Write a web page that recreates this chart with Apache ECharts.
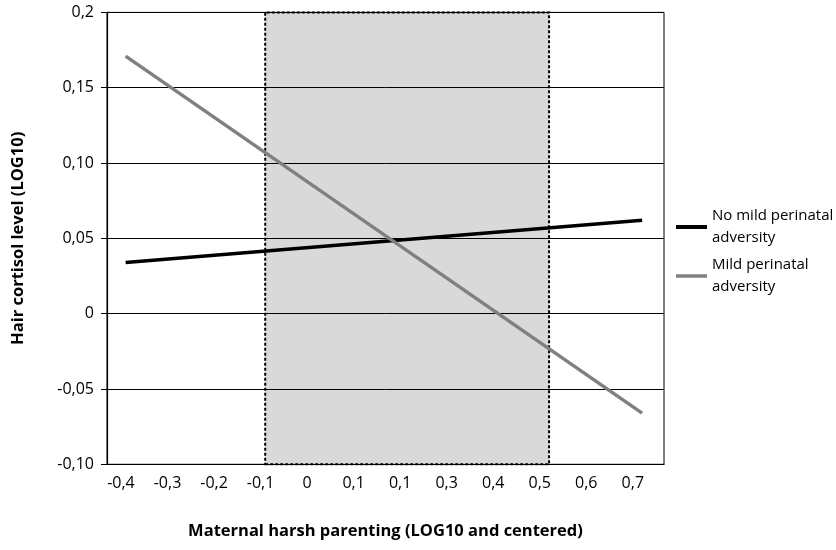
<!DOCTYPE html>
<html>
<head>
<meta charset="utf-8">
<script src="https://cdn.jsdelivr.net/npm/echarts@6/dist/echarts.min.js"></script>
<style>
html,body{margin:0;padding:0;background:#fff;}
#chart{width:836px;height:550px;}
</style>
</head>
<body>
<div id="chart"></div>
<script>
// ---- data ----
var xValues = [-0.39, 0.72];
var noMildValues = [0.034, 0.062];
var mildValues = [0.171, -0.066];
var seriesNames = ['No mild perinatal adversity', 'Mild perinatal adversity'];
var legendLabels = ['No mild perinatal\nadversity', 'Mild perinatal\nadversity'];
var xTickValues = [-0.4, -0.3, -0.2, -0.1, 0, 0.1, 0.2, 0.3, 0.4, 0.5, 0.6, 0.7];
var xTickLabels = ['-0,4', '-0,3', '-0,2', '-0,1', '0', '0,1', '0,1', '0,3', '0,4', '0,5', '0,6', '0,7'];
var yTickValues = [-0.1, -0.05, 0, 0.05, 0.1, 0.15, 0.2];
var yTickLabels = ['-0,10', '-0,05', '0', '0,05', '0,10', '0,15', '0,2'];
var shadeRange = [-0.09, 0.52];
var xTitle = 'Maternal harsh parenting (LOG10 and centered)';
var yTitle = 'Hair cortisol level (LOG10)';

function pairs(xs, ys) { return xs.map(function (x, i) { return [x, ys[i]]; }); }
function nearestLabel(v, vals, labels) {
  var best = 0, d = Infinity;
  for (var i = 0; i < vals.length; i++) { var dd = Math.abs(vals[i] - v); if (dd < d) { d = dd; best = i; } }
  return labels[best];
}

var FONT = 'Open Sans';
var chart = echarts.init(document.getElementById('chart'));
chart.setOption({
  backgroundColor: '#fff',
  animation: false,
  textStyle: { fontFamily: FONT },
  grid: { left: 107, right: 172, top: 12.4, bottom: 85.7, show: true, borderColor: '#000', borderWidth: 1, backgroundColor: 'transparent' },
  xAxis: {
    type: 'value', min: -0.43, max: 0.767, z: 2,
    axisLine: { show: true, onZero: false, lineStyle: { color: '#000', width: 1.2 } },
    axisTick: { show: false },
    splitLine: { show: false },
    axisLabel: {
      customValues: xTickValues, margin: 11, color: '#000', fontSize: 16, fontFamily: FONT,
      formatter: function (v) { return nearestLabel(v, xTickValues, xTickLabels); }
    },
    name: xTitle, nameLocation: 'middle', nameGap: 58,
    nameTextStyle: { color: '#000', fontWeight: 'bold', fontSize: 16.5, fontFamily: FONT }
  },
  yAxis: {
    type: 'value', min: -0.1, max: 0.2, interval: 0.05, z: 2,
    axisLine: { show: true, onZero: false, lineStyle: { color: '#000', width: 1.2 } },
    axisTick: { show: true, length: 6, lineStyle: { color: '#000' } },
    splitLine: { show: true, lineStyle: { color: '#000', width: 1 } },
    axisLabel: {
      margin: 13, color: '#000', fontSize: 16, fontFamily: FONT,
      formatter: function (v) { return nearestLabel(v, yTickValues, yTickLabels); }
    },
    name: yTitle, nameLocation: 'middle', nameGap: 80,
    nameTextStyle: { color: '#000', fontWeight: 'bold', fontSize: 16.5, fontFamily: FONT }
  },
  legend: [0, 1].map(function (i) {
    return {
      data: [seriesNames[i]],
      left: 676, top: i === 0 ? 194 : 243,
      padding: 0,
      orient: 'vertical',
      icon: 'rect', itemWidth: 31, itemHeight: i === 0 ? 4 : 3.5, itemGap: 5,
      formatter: function () { return legendLabels[i]; },
      textStyle: { color: '#000', fontSize: 15, fontFamily: FONT, lineHeight: 22, padding: [22, 0, 0, 0] },
      selectedMode: false
    };
  }),
  series: [
    {
      type: 'line', name: '_shade', data: [], z: 1, silent: true,
      markArea: {
        silent: true,
        itemStyle: { color: '#d9d9d9', borderColor: '#000', borderWidth: 2, borderType: [3, 2] },
        data: [[{ xAxis: shadeRange[0], yAxis: -0.1 }, { xAxis: shadeRange[1], yAxis: 0.2 }]]
      }
    },
    {
      type: 'line', name: seriesNames[0], data: pairs(xValues, noMildValues), z: 3,
      showSymbol: false, symbol: 'none', color: '#000',
      lineStyle: { color: '#000', width: 3.5, cap: 'butt' }
    },
    {
      type: 'line', name: seriesNames[1], data: pairs(xValues, mildValues), z: 3,
      showSymbol: false, symbol: 'none', color: '#808080',
      lineStyle: { color: '#808080', width: 3.5, cap: 'butt' }
    }
  ]
});
</script>
</body>
</html>
